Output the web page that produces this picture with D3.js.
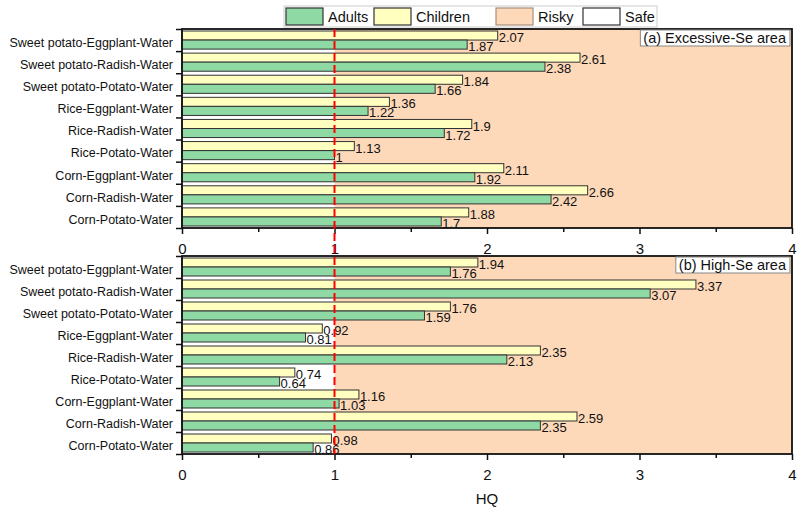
<!DOCTYPE html>
<html>
<head>
<meta charset="utf-8">
<script src="https://cdn.jsdelivr.net/npm/d3@7"></script>
<style>
  body { margin: 0; background: #fff; }
  svg text { font-family: "Liberation Sans", Arial, sans-serif; fill: #111; }
</style>
</head>
<body>
<div id="chart"></div>
<script>
// categories, top to bottom
const categories = [
  "Sweet potato-Eggplant-Water",
  "Sweet potato-Radish-Water",
  "Sweet potato-Potato-Water",
  "Rice-Eggplant-Water",
  "Rice-Radish-Water",
  "Rice-Potato-Water",
  "Corn-Eggplant-Water",
  "Corn-Radish-Water",
  "Corn-Potato-Water"
];
const series = ["Children", "Adults"];

// (a) Excessive-Se area
const excessiveChildren = [2.07, 2.61, 1.84, 1.36, 1.9, 1.13, 2.11, 2.66, 1.88];
const excessiveAdults   = [1.87, 2.38, 1.66, 1.22, 1.72, 1, 1.92, 2.42, 1.7];
// (b) High-Se area
const highChildren = [1.94, 3.37, 1.76, 0.92, 2.35, 0.74, 1.16, 2.59, 0.98];
const highAdults   = [1.76, 3.07, 1.59, 0.81, 2.13, 0.64, 1.03, 2.35, 0.86];

const xTicks = [0, 1, 2, 3, 4];
const xMinorTicks = [0.5, 1.5, 2.5, 3.5];
const threshold = 1;

const colors = { Adults: "#8ed9a4", Children: "#ffffc0", Risky: "#fdd9b9", Safe: "#ffffff" };

const width = 797, height = 507;
const margin = { left: 182, right: 5 };

const svg = d3.select("#chart").append("svg")
  .attr("width", width)
  .attr("height", height);

const x = d3.scaleLinear().domain([0, 4]).range([margin.left, width - margin.right]);

const panels = [
  { title: "(a) Excessive-Se area", top: 29, bottom: 228, children: excessiveChildren, adults: excessiveAdults },
  { title: "(b) High-Se area", top: 256, bottom: 454, children: highChildren, adults: highAdults }
];

panels.forEach(function (p) {
  const g = svg.append("g");

  const y = d3.scaleBand().domain(categories).range([p.top, p.bottom]).padding(0);
  const ySub = d3.scaleBand().domain(series).range([2, y.bandwidth() - 2]).padding(0);
  const yLin = d3.scaleLinear().domain([0, categories.length]).range([p.top, p.bottom]);

  // safe / risky background
  g.append("rect")
    .attr("x", x(0)).attr("y", p.top)
    .attr("width", x(threshold) - x(0)).attr("height", p.bottom - p.top)
    .attr("fill", colors.Safe);
  g.append("rect")
    .attr("x", x(threshold)).attr("y", p.top)
    .attr("width", x(4) - x(threshold)).attr("height", p.bottom - p.top)
    .attr("fill", colors.Risky);

  const rows = categories.map((c, i) => ({ cat: c, Children: p.children[i], Adults: p.adults[i] }));

  const row = g.selectAll(".row")
    .data(rows)
    .join("g")
    .attr("class", "row")
    .attr("transform", d => "translate(0," + y(d.cat) + ")");

  row.selectAll("rect")
    .data(d => series.map(s => ({ key: s, value: d[s] })))
    .join("rect")
    .attr("x", x(0))
    .attr("y", d => ySub(d.key))
    .attr("width", d => x(d.value) - x(0))
    .attr("height", ySub.bandwidth())
    .attr("fill", d => colors[d.key])
    .attr("stroke", "#333")
    .attr("stroke-width", 1);

  row.selectAll("text.val")
    .data(d => series.map(s => ({ key: s, value: d[s] })))
    .join("text")
    .attr("class", "val")
    .attr("x", d => x(d.value) + 1)
    .attr("y", d => ySub(d.key) + ySub.bandwidth() / 2 + 2)
    .attr("dy", "0.35em")
    .style("font-size", "13px")
    .text(d => d.value);

  // category labels
  const yAxis = d3.axisLeft(y).tickSize(0).tickPadding(9);
  g.append("g")
    .attr("transform", "translate(" + x(0) + ",0)")
    .call(yAxis)
    .call(a => a.select(".domain").remove())
    .call(a => a.selectAll("text").attr("dy", "0.55em").style("font-size", "12.5px").style("fill", "#111"));

  // boundary ticks on left axis
  g.append("g")
    .attr("transform", "translate(" + x(0) + ",0)")
    .call(d3.axisLeft(yLin).ticks(categories.length).tickSize(6).tickFormat(""))
    .call(a => a.select(".domain").remove())
    .call(a => a.selectAll("line").attr("stroke", "#111").attr("stroke-width", 1.5));

  // bottom axis
  g.append("g")
    .attr("transform", "translate(0," + p.bottom + ")")
    .call(d3.axisBottom(x).tickValues(xTicks).tickSize(6).tickPadding(9).tickFormat(d3.format("d")))
    .call(a => a.select(".domain").remove())
    .call(a => a.selectAll("line").attr("stroke", "#111").attr("stroke-width", 1.5))
    .call(a => a.selectAll("text").style("font-size", "15px").style("fill", "#111"));
  g.append("g")
    .attr("transform", "translate(0," + p.bottom + ")")
    .call(d3.axisBottom(x).tickValues(xMinorTicks).tickSize(4).tickFormat(""))
    .call(a => a.select(".domain").remove())
    .call(a => a.selectAll("line").attr("stroke", "#111").attr("stroke-width", 1.5));

  // frame
  g.append("rect")
    .attr("x", x(0)).attr("y", p.top)
    .attr("width", x(4) - x(0)).attr("height", p.bottom - p.top)
    .attr("fill", "none")
    .attr("stroke", "#111")
    .attr("stroke-width", 1.8);
});

// red threshold line across both panels
svg.append("line")
  .attr("x1", x(threshold)).attr("x2", x(threshold))
  .attr("y1", panels[0].top).attr("y2", panels[1].bottom)
  .attr("stroke", "#ff0000")
  .attr("stroke-width", 2)
  .attr("stroke-dasharray", "8,4");

// panel titles
panels.forEach(function (p) {
  const tg = svg.append("g");
  const box = tg.append("rect");
  const t = tg.append("text")
    .attr("x", x(4) - 6)
    .attr("y", p.top + 14)
    .attr("text-anchor", "end")
    .style("font-size", "14.5px")
    .text(p.title);
  const bb = t.node().getBBox();
  box.attr("x", bb.x - 3).attr("y", bb.y)
    .attr("width", bb.width + 6).attr("height", bb.height)
    .attr("fill", "#fff")
    .attr("stroke", "#888")
    .attr("stroke-width", 1);
});

// x axis title
svg.append("text")
  .attr("x", (x(0) + x(4)) / 2)
  .attr("y", 504)
  .attr("text-anchor", "middle")
  .style("font-size", "15px")
  .text("HQ");

// legend
const legendItems = ["Adults", "Children", "Risky", "Safe"];
const legendX = [286, 374, 496, 583];
const legend = svg.append("g");
legend.append("rect")
  .attr("x", 284).attr("y", 6)
  .attr("width", 373).attr("height", 21)
  .attr("fill", "#fff")
  .attr("stroke", "#ccc");
legendItems.forEach(function (k, i) {
  legend.append("rect")
    .attr("x", legendX[i]).attr("y", 8)
    .attr("width", 37).attr("height", 17)
    .attr("fill", colors[k])
    .attr("stroke", k === "Risky" ? "#a98f7a" : "#333")
    .attr("stroke-width", 1.2);
  legend.append("text")
    .attr("x", legendX[i] + 42)
    .attr("y", 21.5)
    .style("font-size", "14.5px")
    .text(k);
});
</script>
</body>
</html>
